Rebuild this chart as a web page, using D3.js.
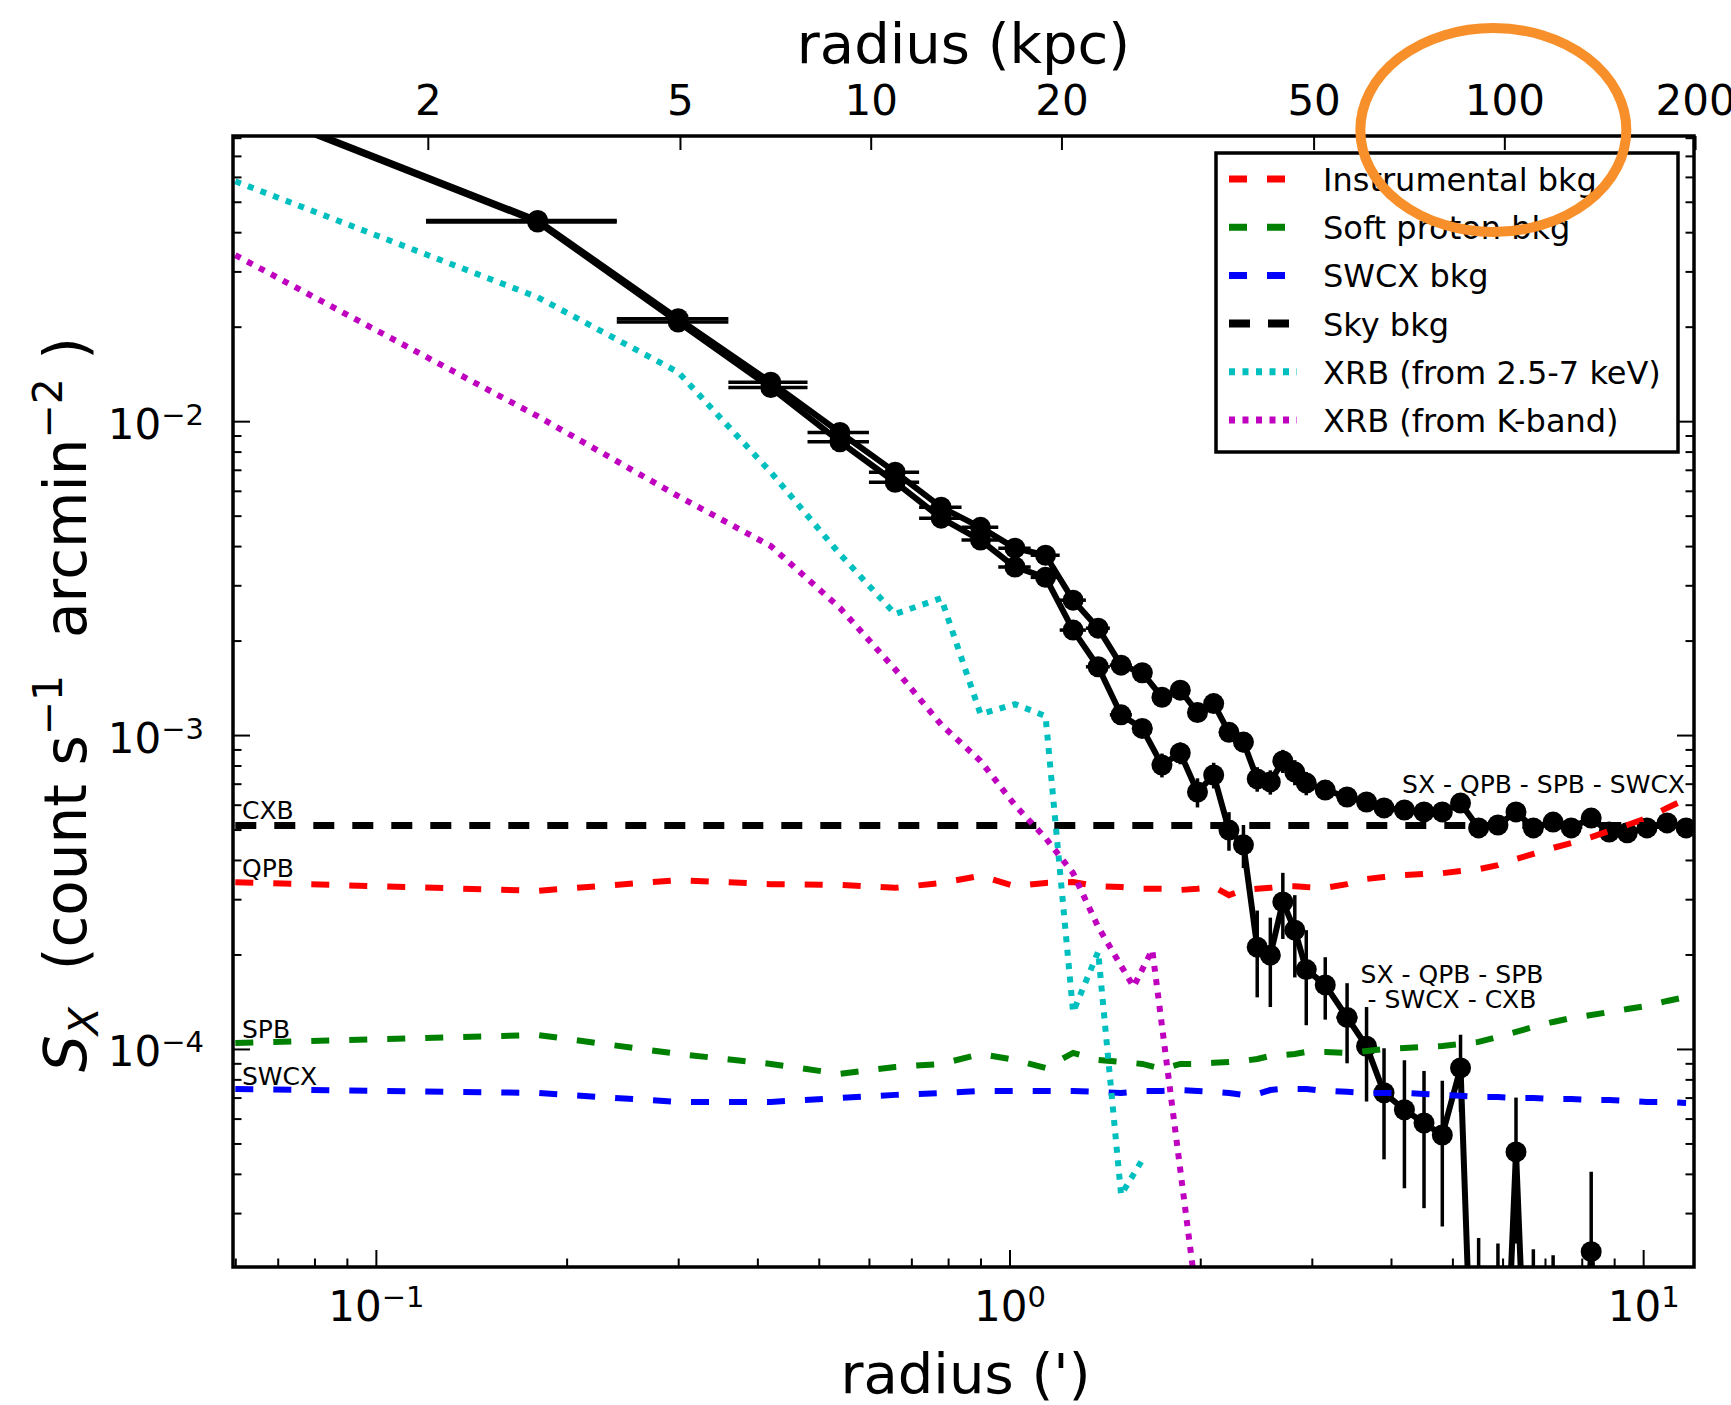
<!DOCTYPE html>
<html>
<head>
<meta charset="utf-8">
<title>Surface brightness profile</title>
<script src="https://cdn.jsdelivr.net/npm/d3@7"></script>
<style>
  body { margin: 0; background: #fff; }
  svg text { font-family: "DejaVu Sans", sans-serif; fill: #000; }
</style>
</head>
<body>
<div id="chart"></div>
<script>
var width = 1731;
var height = 1405;
var plot = {left: 233, right: 1694, top: 136, bottom: 1267};

// annulus centres (arcmin) and half widths
var radius = [0.06, 0.18, 0.30, 0.42, 0.54, 0.66, 0.78, 0.90, 1.02, 1.14,
  1.26, 1.38, 1.50, 1.62, 1.74, 1.86, 1.98, 2.10, 2.22, 2.34,
  2.46, 2.58, 2.70, 2.82, 2.94, 3.15, 3.41, 3.66, 3.90, 4.20,
  4.51, 4.82, 5.15, 5.50, 5.90, 6.30, 6.71, 7.21, 7.70, 8.28,
  8.84, 9.44, 10.14, 10.91, 11.69];
var radiusErr = [0.06, 0.06, 0.06, 0.06, 0.06, 0.06, 0.06, 0.06, 0.06, 0.06,
  0.06, 0.06, 0.06, 0.06, 0.06, 0.06, 0.06, 0.06, 0.06, 0.06,
  0.06, 0.06, 0.06, 0.06, 0.06, 0.11, 0.13, 0.12, 0.13, 0.15,
  0.15, 0.16, 0.17, 0.18, 0.2, 0.2, 0.23, 0.25, 0.26, 0.28,
  0.29, 0.32, 0.36, 0.38, 0.39];

// SX - QPB - SPB - SWCX
var sxMinusBkg = [0.104, 0.0436, 0.0212, 0.0133, 0.0092, 0.00688, 0.00532, 0.00459, 0.00394, 0.00374,
  0.00269, 0.00219, 0.00167, 0.00158, 0.00132, 0.00139, 0.00118, 0.00126, 0.00102, 0.00095,
  0.000725, 0.000709, 0.000827, 0.000762, 0.000703, 0.000668, 0.000635, 0.000612, 0.000586, 0.000577,
  0.000569, 0.000569, 0.000607, 0.000506, 0.000517, 0.000569, 0.000506, 0.000528, 0.000506, 0.000544,
  0.000491, 0.000488, 0.000506, 0.000525, 0.000506];
// SX - QPB - SPB - SWCX - CXB (points under the axis are ~0)
var sxMinusAll = [0.103, 0.0431, 0.0207, 0.0128, 0.0086, 0.00639, 0.00491, 0.00418, 0.00343, 0.00318,
  0.00216, 0.00165, 0.00116, 0.00105, 0.000803, 0.000877, 0.000658, 0.000746, 0.000498, 0.000447,
  0.000211, 0.000199, 0.000294, 0.000239, 0.000179, 0.000160, 0.000126, 0.000102, 0.0000725, 0.000064,
  0.0000581, 0.0000532, 0.000087, 0.000002, 0.000002, 0.000047, 0.000002, 0.000002, 0.000002, 0.0000226,
  0.000002, 0.000002, 0.000002, 0.000002, 0.000002];
var sxErr = [0.002, 0.0008, 0.0004, 0.0003, 0.0002, 0.00015, 0.00013, 0.00012, 0.0001, 0.0001,
  0.00009, 0.00008, 0.00008, 0.00007, 0.00007, 0.00007, 0.00007, 0.00007, 0.00007, 0.00007,
  0.000065, 0.000063, 0.00007, 0.00007, 0.00006, 0.000036, 0.000036, 0.000034, 0.000028, 0.000028,
  0.000027, 0.000026, 0.000024, 0.000023, 0.000022, 0.000023, 0.000021, 0.00002, 0.000018, 0.000018,
  0.000017, 0.000017, 0.000016, 0.000016, 0.000016];

// background components on the same annuli
var qpb = [3.40e-4, 3.19e-4, 3.45e-4, 3.35e-4, 3.33e-4, 3.26e-4, 3.38e-4, 3.56e-4, 3.30e-4, 3.38e-4,
  3.40e-4, 3.30e-4, 3.28e-4, 3.24e-4, 3.24e-4, 3.21e-4, 3.24e-4, 3.28e-4, 3.09e-4, 3.21e-4,
  3.24e-4, 3.26e-4, 3.30e-4, 3.30e-4, 3.28e-4, 3.26e-4, 3.35e-4, 3.48e-4, 3.53e-4, 3.58e-4,
  3.61e-4, 3.63e-4, 3.69e-4, 3.74e-4, 3.85e-4, 4.03e-4, 4.18e-4, 4.37e-4, 4.53e-4, 4.73e-4,
  4.95e-4, 5.17e-4, 5.44e-4, 5.86e-4, 6.25e-4];
var spb = [1.045e-4, 1.108e-4, 9.64e-5, 8.96e-5, 8.33e-5, 8.76e-5, 8.96e-5, 9.64e-5, 9.23e-5, 8.70e-5,
  9.71e-5, 9.23e-5, 9.09e-5, 8.96e-5, 8.64e-5, 8.96e-5, 8.96e-5, 9.03e-5, 9.09e-5, 9.16e-5,
  9.29e-5, 9.50e-5, 9.57e-5, 9.64e-5, 9.78e-5, 9.78e-5, 9.71e-5, 9.85e-5, 1.0e-4, 1.007e-4,
  1.015e-4, 1.022e-4, 1.037e-4, 1.053e-4, 1.092e-4, 1.133e-4, 1.175e-4, 1.219e-4, 1.255e-4, 1.283e-4,
  1.311e-4, 1.34e-4, 1.371e-4, 1.422e-4, 1.464e-4];
var swcx = [7.46e-5, 7.24e-5, 6.78e-5, 6.78e-5, 6.98e-5, 7.14e-5, 7.24e-5, 7.35e-5, 7.35e-5, 7.35e-5,
  7.35e-5, 7.30e-5, 7.24e-5, 7.35e-5, 7.35e-5, 7.40e-5, 7.35e-5, 7.30e-5, 7.24e-5, 7.14e-5,
  7.19e-5, 7.40e-5, 7.46e-5, 7.46e-5, 7.46e-5, 7.35e-5, 7.30e-5, 7.24e-5, 7.24e-5, 7.24e-5,
  7.19e-5, 7.14e-5, 7.09e-5, 7.03e-5, 7.03e-5, 6.98e-5, 6.98e-5, 6.93e-5, 6.93e-5, 6.88e-5,
  6.88e-5, 6.83e-5, 6.78e-5, 6.78e-5, 6.73e-5];
var cxbLevel = 5.15e-4;
var xrbHard = [0.0581, 0.02483, 0.01432, 0.00688, 0.00377, 0.00243, 0.00273, 0.001166, 0.001255, 0.001149,
  0.000131, 0.000204, 0.0000343, 0.0000443, null, null, null, null, null, null,
  null, null, null, null, null, null, null, null, null, null,
  null, null, null, null, null, null, null, null, null, null,
  null, null, null, null, null];
var kbandRadius = [0.06, 0.18, 0.30, 0.42, 0.54, 0.66, 0.78, 0.90, 1.02, 1.14, 1.26, 1.38, 1.50, 1.57, 1.68, 1.98];
var xrbKband = [0.0338, 0.01037, 0.00577, 0.0040, 0.00254, 0.00162, 0.00108, 0.000827, 0.000598, 0.00047,
  0.000363, 0.000245, 0.000184, 0.000158, 0.000207, 0.0000153];

var kpcPerArcmin = 16.56;
var kpcTicks = [2, 5, 10, 20, 50, 100, 200];
var xMajor = [0.1, 1, 10];
var yMajor = [1e-4, 1e-3, 1e-2];

var legendLabels = ["Instrumental bkg", "Soft proton bkg", "SWCX bkg", "Sky bkg",
  "XRB (from 2.5-7 keV)", "XRB (from K-band)"];


var svg = d3.select("#chart").append("svg")
  .attr("width", width)
  .attr("height", height)
  .attr("viewBox", "0 0 " + width + " " + height);

var x = d3.scaleLog().domain([0.0595, 12.03]).range([plot.left, plot.right]);
var y = d3.scaleLog().domain([2.02e-5, 0.081]).range([plot.bottom, plot.top]);
var xKpc = d3.scaleLog()
  .domain(x.domain().map(function(d){ return d * kpcPerArcmin; }))
  .range(x.range());

svg.append("clipPath").attr("id", "clip").append("rect")
  .attr("x", plot.left).attr("y", plot.top)
  .attr("width", plot.right - plot.left).attr("height", plot.bottom - plot.top);

var floor = 1e-9;
var line = d3.line()
  .defined(function(d){ return d[1] != null; })
  .x(function(d){ return x(d[0]); })
  .y(function(d){ return y(Math.max(d[1], floor)); });

var zip = function(xs, ys){
  return xs.map(function(r, i){ return [r, ys[i]]; });
};

var marks = svg.append("g").attr("clip-path", "url(#clip)");

// profiles with error bars
[sxMinusBkg, sxMinusAll].forEach(function(vals){
  var pts = radius.map(function(r, i){ return [r, vals[i], sxErr[i], radiusErr[i]]; });
  var g = marks.append("g");
  g.append("path").datum(pts)
    .attr("d", line)
    .attr("fill", "none")
    .attr("stroke", "#000")
    .attr("stroke-width", 6)
    .attr("stroke-linejoin", "round");
  g.selectAll("line.xerr").data(pts).enter().append("line")
    .attr("x1", function(d){ return x(d[0] - d[3]); })
    .attr("x2", function(d){ return x(d[0] + d[3]); })
    .attr("y1", function(d){ return y(d[1]); })
    .attr("y2", function(d){ return y(d[1]); })
    .attr("stroke", "#000").attr("stroke-width", 3.5);
  g.selectAll("line.yerr").data(pts).enter().append("line")
    .attr("x1", function(d){ return x(d[0]); })
    .attr("x2", function(d){ return x(d[0]); })
    .attr("y1", function(d){ return y(Math.max(d[1] - d[2], floor)); })
    .attr("y2", function(d){ return y(d[1] + d[2]); })
    .attr("stroke", "#000").attr("stroke-width", 3.5);
  g.selectAll("circle").data(pts).enter().append("circle")
    .attr("cx", function(d){ return x(d[0]); })
    .attr("cy", function(d){ return y(d[1]); })
    .attr("r", 10.5)
    .attr("fill", "#000");
});

// background components
var styles = [
  {vals: zip(radius, qpb), color: "#ff0000", width: 6, dash: "18,20"},
  {vals: zip(radius, spb), color: "#008000", width: 6, dash: "18,20"},
  {vals: zip(radius, swcx), color: "#0000ff", width: 6, dash: "18,20"},
  {vals: [[radius[0], cxbLevel], [radius[radius.length - 1], cxbLevel]], color: "#000", width: 7, dash: "21,18"},
  {vals: zip(radius, xrbHard), color: "#00bfbf", width: 6, dash: "6,7.5"},
  {vals: zip(kbandRadius, xrbKband), color: "#bf00bf", width: 6, dash: "6,7.5"}
];

styles.forEach(function(s){
  marks.append("path").datum(s.vals)
    .attr("d", line)
    .attr("fill", "none")
    .attr("stroke", s.color)
    .attr("stroke-width", s.width)
    .attr("stroke-dasharray", s.dash);
});

// labels on the curves
var small = 25;
var notes = svg.append("g").attr("font-size", small);
notes.append("text").attr("x", plot.left + 9).attr("y", y(cxbLevel) - 7).text("CXB");
notes.append("text").attr("x", plot.left + 9).attr("y", y(qpb[0]) - 5).text("QPB");
notes.append("text").attr("x", plot.left + 9).attr("y", y(spb[0]) - 5).text("SPB");
notes.append("text").attr("x", plot.left + 9).attr("y", y(swcx[0]) - 4).text("SWCX");
notes.append("text").attr("x", 1685).attr("y", 793).attr("text-anchor", "end")
  .text("SX - QPB - SPB - SWCX");
notes.append("text").attr("x", 1452).attr("y", 983).attr("text-anchor", "middle")
  .text("SX - QPB - SPB");
notes.append("text").attr("x", 1452).attr("y", 1008).attr("text-anchor", "middle")
  .text("- SWCX - CXB");

// axes
var power = function(d){
  var e = Math.round(Math.log10(d));
  var t = d3.select(this).text(null);
  t.append("tspan").text("10");
  t.append("tspan").attr("font-size", 29).attr("dy", -14).text(e < 0 ? "\u2212" + (-e) : e);
};

var tidy = function(g, w){
  g.select(".domain").remove();
  g.attr("font-size", 42).attr("font-family", "DejaVu Sans");
  g.selectAll(".tick line").attr("stroke", "#000").attr("stroke-width", w);
};

var xMinor = x.ticks().filter(function(d){ return xMajor.indexOf(d) < 0; });
var yMinor = y.ticks().filter(function(d){ return yMajor.indexOf(+d.toPrecision(1)) < 0; });

var gx = svg.append("g").attr("transform", "translate(0," + plot.bottom + ")")
  .call(d3.axisBottom(x).tickValues(xMajor).tickSize(-17).tickFormat(""));
tidy(gx, 2);
gx.selectAll(".tick text").attr("y", 54).attr("dy", null).each(power);

var gxm = svg.append("g").attr("transform", "translate(0," + plot.bottom + ")")
  .call(d3.axisBottom(x).tickValues(xMinor).tickSize(-8.5).tickFormat(""));
tidy(gxm, 2);

var gy = svg.append("g").attr("transform", "translate(" + plot.left + ",0)")
  .call(d3.axisLeft(y).tickValues(yMajor).tickSize(-17).tickFormat(""));
tidy(gy, 2);
gy.selectAll(".tick text").attr("x", -29).attr("y", 17).attr("dy", null).each(power);

var gym = svg.append("g").attr("transform", "translate(" + plot.left + ",0)")
  .call(d3.axisLeft(y).tickValues(yMinor).tickSize(-8.5).tickFormat(""));
tidy(gym, 2);

var gr = svg.append("g").attr("transform", "translate(" + plot.right + ",0)")
  .call(d3.axisRight(y).tickValues(yMajor).tickSize(-17).tickFormat(""));
tidy(gr, 2);
var grm = svg.append("g").attr("transform", "translate(" + plot.right + ",0)")
  .call(d3.axisRight(y).tickValues(yMinor).tickSize(-8.5).tickFormat(""));
tidy(grm, 2);

var gt = svg.append("g").attr("transform", "translate(0," + plot.top + ")")
  .call(d3.axisTop(xKpc).tickValues(kpcTicks).tickSize(-14).tickPadding(21).tickFormat(d3.format("d")));
tidy(gt, 2);

// frame
svg.append("rect")
  .attr("x", plot.left).attr("y", plot.top)
  .attr("width", plot.right - plot.left).attr("height", plot.bottom - plot.top)
  .attr("fill", "none").attr("stroke", "#000").attr("stroke-width", 3.5);

// axis titles
svg.append("text").attr("x", (plot.left + plot.right) / 2).attr("y", 63)
  .attr("text-anchor", "middle").attr("font-size", 56).text("radius (kpc)");
svg.append("text").attr("x", (plot.left + plot.right) / 2 + 2).attr("y", 1393)
  .attr("text-anchor", "middle").attr("font-size", 56).text("radius (')");

var yl = svg.append("text")
  .attr("transform", "translate(86," + ((plot.top + plot.bottom) / 2 + 3) + ") rotate(-90)")
  .attr("text-anchor", "middle").attr("font-size", 58);
yl.append("tspan").attr("font-style", "italic").text("S");
yl.append("tspan").attr("font-style", "italic").attr("font-size", 41).attr("dy", 12).text("X");
yl.append("tspan").attr("dy", -12).text("\u00a0\u00a0(count s");
yl.append("tspan").attr("font-size", 41).attr("dy", -24).text("\u22121");
yl.append("tspan").attr("dy", 24).text("\u00a0\u00a0arcmin");
yl.append("tspan").attr("font-size", 41).attr("dy", -24).text("\u22122");
yl.append("tspan").attr("dy", 24).text("\u00a0)");

// legend
var legend = svg.append("g");
legend.append("rect")
  .attr("x", 1216).attr("y", 153).attr("width", 462).attr("height", 299)
  .attr("fill", "#fff").attr("stroke", "#000").attr("stroke-width", 3.5);
legendLabels.forEach(function(label, i){
  var s = styles[i];
  var cy = 179 + i * 48.2;
  legend.append("line")
    .attr("x1", 1229).attr("x2", 1297).attr("y1", cy).attr("y2", cy)
    .attr("stroke", s.color).attr("stroke-width", s.width + 1)
    .attr("stroke-dasharray", s.dash);
  legend.append("text").attr("x", 1323).attr("y", cy + 12)
    .attr("font-size", 32).text(label);
});

// hand-drawn highlight round 100 kpc
svg.append("ellipse")
  .attr("cx", xKpc(100) - 11).attr("cy", 130)
  .attr("rx", 133).attr("ry", 102)
  .attr("fill", "none").attr("stroke", "#f7902a").attr("stroke-width", 10);
</script>
</body>
</html>
